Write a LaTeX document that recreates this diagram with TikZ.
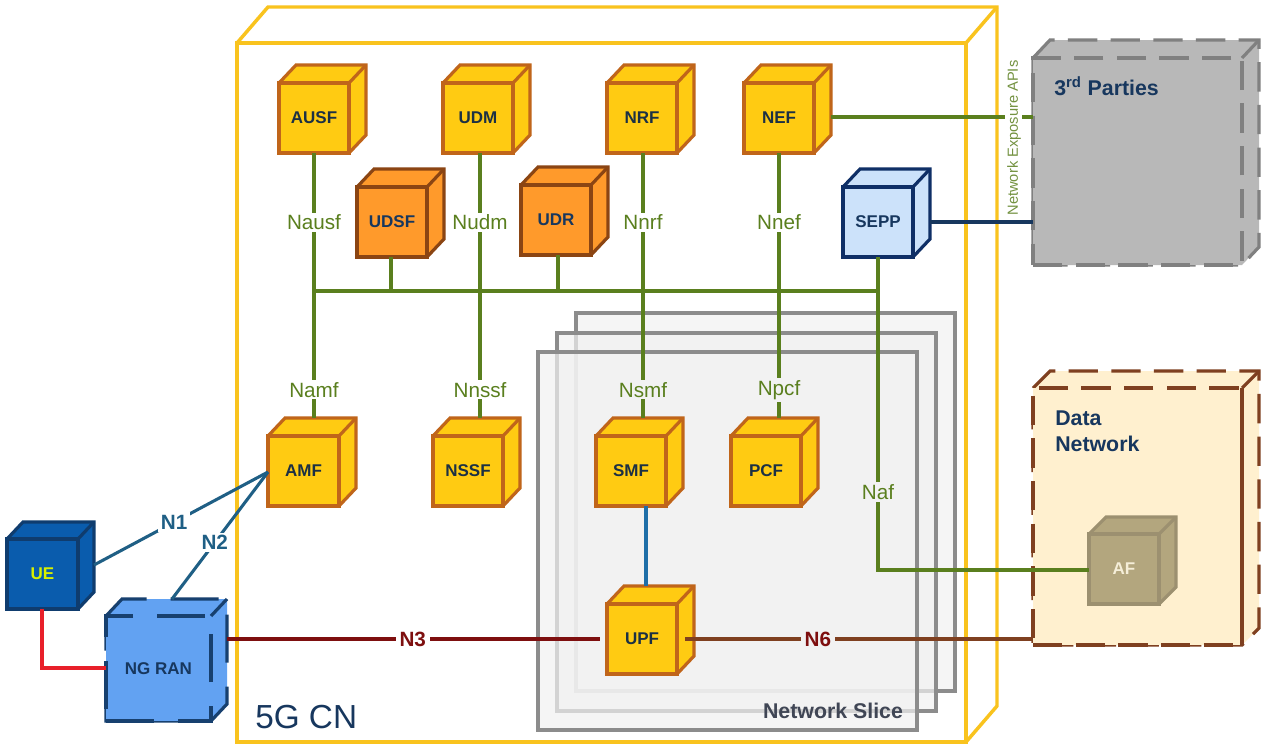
\documentclass[tikz,border=0pt]{standalone}
\usepackage{fontspec}
\setmainfont{Liberation Sans}
\definecolor{cnYellow}{HTML}{F9C31E}
\definecolor{linkGreen}{HTML}{5A7F1E}
\definecolor{navy}{HTML}{17375E}
\definecolor{sliceGray}{HTML}{8C8C8C}
\definecolor{sliceFill}{HTML}{F2F2F2}
\definecolor{linkBlue}{HTML}{1F5F85}
\definecolor{linkRed}{HTML}{7E0F0F}
\definecolor{linkBrown}{HTML}{7F4020}
\newcommand{\cubebox}[9]{%
  \path[#8] (#2,#3) -- (#2+#6,#3-#7) -- (#2+#4+#6,#3-#7) -- (#2+#4+#6,#3+#5-#7) -- (#2+#4,#3+#5) -- (#2,#3+#5) -- cycle;
  \path[#8] (#2+#4,#3) -- (#2+#4+#6,#3-#7);
  \node[#8, minimum width=#4*0.75pt, minimum height=#5*0.75pt, outer sep=0pt, inner sep=0pt, anchor=north west] (#1) at (#2,#3) {#9};
}
\tikzset{
  cubebase/.style={draw, line width=2.4pt, line join=miter, align=center, font=\bfseries\fontsize{12.75}{15}\selectfont},
  yellowcube/.style={cubebase, fill={rgb,255:red,255;green,203;blue,18}, draw={rgb,255:red,192;green,101;blue,26}, text={rgb,255:red,28;green,48;blue,68}},
  orangecube/.style={cubebase, fill={rgb,255:red,255;green,154;blue,43}, draw={rgb,255:red,139;green,69;blue,19}, text=navy},
  seppcube/.style={cubebase, fill={rgb,255:red,204;green,226;blue,250}, draw={rgb,255:red,15;green,47;blue,102}, text=navy},
  uecube/.style={cubebase, fill={rgb,255:red,10;green,92;blue,173}, draw={rgb,255:red,15;green,60;blue,110}, text={rgb,255:red,216;green,240;blue,0}},
  rancube/.style={cubebase, fill={rgb,255:red,98;green,162;blue,242}, draw={rgb,255:red,23;green,64;blue,111}, text=navy, dash pattern=on 36pt off 18pt},
  afcube/.style={cubebase, fill={rgb,255:red,179;green,166;blue,126}, draw={rgb,255:red,156;green,144;blue,112}, text={rgb,255:red,245;green,238;blue,216}},
  partycube/.style={cubebase, fill={rgb,255:red,184;green,184;blue,184}, draw={rgb,255:red,128;green,128;blue,128}, dash pattern=on 22pt off 10pt},
  dncube/.style={cubebase, fill={rgb,255:red,255;green,240;blue,207}, draw=linkBrown, dash pattern=on 22pt off 10pt},
  cncube/.style={draw=cnYellow, line width=2.6pt},
  slicebox/.style={draw=sliceGray, line width=2.4pt, fill=sliceFill, fill opacity=0.7, draw opacity=1, minimum width=379*0.75pt, minimum height=378*0.75pt, anchor=north west, outer sep=0pt, inner sep=0pt},
  greenlink/.style={draw=linkGreen, line width=2.3pt},
  bluelink/.style={draw=linkBlue, line width=2.3pt},
  greenlab/.style={text=linkGreen, font=\fontsize{15.5}{18}\selectfont, inner sep=1.5pt, fill=#1},
  greenlab/.default=white,
  bluelab/.style={text=linkBlue, font=\bfseries\fontsize{15.5}{18}\selectfont, inner sep=2pt, fill=white},
  redlab/.style={text=linkRed, font=\bfseries\fontsize{15.5}{18}\selectfont, inner sep=3pt, fill=#1},
  redlab/.default=white,
  title/.style={text=navy, font=\bfseries\fontsize{16}{20}\selectfont, anchor=west, inner sep=0pt},
}
\begin{document}
\begin{tikzpicture}[x=0.75pt,y=-0.75pt]
\useasboundingbox (0,0) rectangle (1261,744);
\fill[white] (0,0) rectangle (1261,744);

% 5G core container
\cubebox{cn}{237}{43}{729}{699}{31}{36}{cncube}{}
\node[text=navy, font=\fontsize{25}{30}\selectfont, anchor=west, inner sep=0pt] (cnlabel) at (255,717) {5G CN};

% network slices
\node[slicebox] (sliceC) at (576,313) {};
\node[slicebox] (sliceB) at (557,333) {};
\node[slicebox] (sliceA) at (538,352) {};
\node[text={rgb,255:red,64;green,70;blue,85}, font=\bfseries\fontsize{16}{20}\selectfont, inner sep=0pt] (slicelabel) at (833,711) {Network Slice};

% outer domains
\cubebox{parties}{1033}{58}{209}{207}{17}{18}{partycube}{}
\node[title] (partieslabel) at (1054,86) {3\textsuperscript{rd} Parties};
\cubebox{dn}{1033}{388}{209}{257}{17}{17}{dncube}{}
\draw[draw=linkBrown, line width=2.4pt] (dn.north east) -- (dn.south east);
\node[title] (dnlabel1) at (1055,418) {Data};
\node[title] (dnlabel2) at (1055,444) {Network};

% network functions
\cubebox{ausf}{279}{83}{70}{70}{17}{18}{yellowcube}{AUSF}
\cubebox{udm}{443}{83}{70}{70}{17}{18}{yellowcube}{UDM}
\cubebox{nrf}{607}{83}{70}{70}{17}{18}{yellowcube}{NRF}
\cubebox{nef}{744}{83}{70}{70}{17}{18}{yellowcube}{NEF}
\cubebox{udsf}{357}{187}{70}{70}{17}{18}{orangecube}{UDSF}
\cubebox{udr}{521}{185}{70}{70}{17}{18}{orangecube}{UDR}
\cubebox{sepp}{843}{187}{70}{70}{17}{18}{seppcube}{SEPP}
\cubebox{amf}{268}{436}{71}{70}{17}{18}{yellowcube}{AMF}
\cubebox{nssf}{433}{436}{70}{70}{17}{18}{yellowcube}{NSSF}
\cubebox{smf}{596}{436}{70}{70}{17}{18}{yellowcube}{SMF}
\cubebox{pcf}{731}{436}{70}{70}{17}{18}{yellowcube}{PCF}
\cubebox{upf}{607}{604}{70}{70}{17}{18}{yellowcube}{UPF}
\cubebox{ue}{7}{539}{71}{70}{16}{17}{uecube}{UE}
\cubebox{ran}{106}{616}{105}{105}{16}{17}{rancube}{NG RAN}
\cubebox{af}{1089}{534}{70}{70}{17}{17}{afcube}{AF}

% connector anchors
\coordinate (busL) at (314,291);
\coordinate (busR) at (878,291);
\coordinate (busUdsf) at (391,291);
\coordinate (busUdr) at (558,291);
\coordinate (udmOut) at (480,153);
\coordinate (nssfIn) at (480,418);
\coordinate (nrfOut) at (643,153);
\coordinate (smfIn) at (643,418);
\coordinate (nefOut) at (779,153);
\coordinate (pcfIn) at (779,418);
\coordinate (amfIn) at (314,418);
\coordinate (seppOut) at (878,257);
\coordinate (nafCorner) at (878,570);
\coordinate (afIn) at (1089,570);
\coordinate (nefRight) at (831,117);
\coordinate (apiGapA) at (1005,117);
\coordinate (apiGapB) at (1022,117);
\coordinate (partiesIn) at (1033,117);
\coordinate (seppRight) at (930,222);
\coordinate (partiesIn2) at (1033,222);
\coordinate (ueRight) at (94,565);
\coordinate (amfLeft) at (268,472);
\coordinate (ranTop) at (172,599);
\coordinate (ranRight) at (227,639);
\coordinate (upfLeft) at (600,639);
\coordinate (upfSide) at (685,639);
\coordinate (dnLeft) at (1033,639);
\coordinate (smfOut) at (646,506);
\coordinate (upfTop) at (646,586);
\coordinate (ueBottom) at (42,609);
\coordinate (ueCorner) at (42,668);
\coordinate (ranLeft) at (106,668);

% service bus and service-based interfaces
\draw[greenlink] (busL) -- (busR);
\draw[greenlink] (udsf.south -| busUdsf) -- (busUdsf);
\draw[greenlink] (udr.south -| busUdr) -- (busUdr);
\draw[greenlink] (ausf.south) -- (amfIn)
  node[pos=0.262, greenlab] (lbNausf) {Nausf}
  node[pos=0.894, greenlab] (lbNamf) {Namf};
\draw[greenlink] (udmOut) -- (nssfIn)
  node[pos=0.262, greenlab] (lbNudm) {Nudm}
  node[pos=0.894, greenlab] (lbNnssf) {Nnssf};
\draw[greenlink] (nrfOut) -- (smfIn)
  node[pos=0.262, greenlab] (lbNnrf) {Nnrf}
  node[pos=0.894, greenlab=sliceFill] (lbNsmf) {Nsmf};
\draw[greenlink] (nefOut) -- (pcfIn)
  node[pos=0.262, greenlab] (lbNnef) {Nnef}
  node[pos=0.894, greenlab=sliceFill] (lbNpcf) {Npcf};
\draw[greenlink] (seppOut) -- (nafCorner) -- (afIn);
\node[greenlab=sliceFill] (lbNaf) at (878,492) {Naf};

% exposure links
\draw[greenlink] (nefRight) -- (apiGapA);
\draw[greenlink] (apiGapB) -- (partiesIn);
\node[rotate=90, text=linkGreen!85!white, font=\fontsize{11}{13}\selectfont, inner sep=1pt, anchor=center] (apilabel) at (1014,138) {Network Exposure APIs};
\draw[draw=navy, line width=2.3pt] (seppRight) -- (partiesIn2);

% access links
\draw[bluelink] (ueRight) -- (amfLeft) node[pos=0.46, bluelab] (lbN1) {N1};
\draw[bluelink] (ranTop) -- (amfLeft) node[pos=0.445, bluelab] (lbN2) {N2};
\draw[draw={rgb,255:red,232;green,32;blue,42}, line width=2.3pt] (ueBottom) -- (ueCorner) -- (ranLeft);
\draw[draw={rgb,255:red,31;green,111;blue,168}, line width=2.3pt] (smfOut) -- (upfTop);

% user plane
\draw[draw=linkRed, line width=2.3pt] (ranRight) -- (upfLeft) node[pos=0.498, redlab] (lbN3) {N3};
\draw[draw=linkBrown, line width=2.3pt] (upfSide) -- (dnLeft) node[pos=0.382, redlab=sliceFill] (lbN6) {N6};
\end{tikzpicture}
\end{document}
